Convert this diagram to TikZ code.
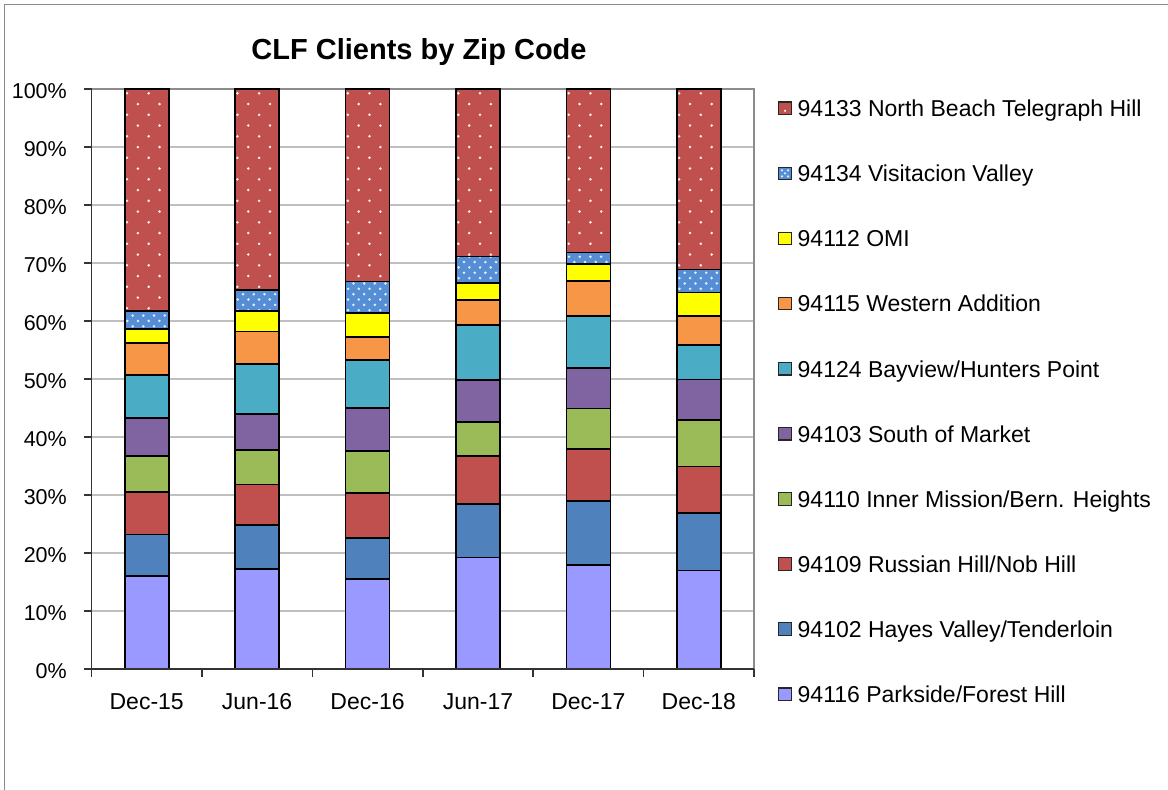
\documentclass[tikz,border=0pt]{standalone}
\usepackage{fontspec}
\setmainfont{Liberation Sans}
\definecolor{segc1}{HTML}{9999FF}
\definecolor{segc2}{HTML}{4F81BD}
\definecolor{segc3}{HTML}{C0504D}
\definecolor{segc4}{HTML}{9BBB59}
\definecolor{segc5}{HTML}{8064A2}
\definecolor{segc6}{HTML}{4BACC6}
\definecolor{segc7}{HTML}{F79646}
\definecolor{segc8}{HTML}{FFFF00}
\definecolor{segc9}{HTML}{558ED5}
\definecolor{segc10}{HTML}{C0504D}
\definecolor{gridgray}{HTML}{C0C0C0}
\definecolor{plotgray}{HTML}{8C8C8C}
\definecolor{framegray}{HTML}{8A8A8A}
\definecolor{axisdark}{HTML}{333333}

% y of a percentage value on the value axis
\newcommand\yof[1]{669-5.8*#1}

% one stacked column: #1 centre x, #2 cumulative tops of the ten series
\newcommand\stackbar[2]{%
  \foreach \t [count=\k, remember=\t as \p (initially 0)] in {#2} {
    \fill[segc\k] ({#1-22},{\yof{\p}}) rectangle ({#1+22},{\yof{\t}});
    \ifnum\k=9
      \begin{scope}
        \clip ({#1-22},{\yof{\p}}) rectangle ({#1+22},{\yof{\t}});
        \foreach \j in {0,...,17} {
          \foreach \m in {0,...,4} {
            \fill[white, opacity=0.85] ({#1-22+2.6+10.7*\m+5.35*mod(\j,2)},{246+5.35*\j}) circle (1.4);
          }
        }
      \end{scope}
    \fi
    \ifnum\k=10
      \begin{scope}
        \clip ({#1-22},{\yof{\p}}) rectangle ({#1+22},{\yof{\t}});
        \foreach \j in {0,...,22} {
          \foreach \m in {0,...,2} {
            \fill[white!92!segc10] ({#1-22+2.3+21.7*\m+10.85*mod(\j,2)},{93.3+10.75*\j}) circle (1.4);
          }
        }
      \end{scope}
    \fi
  }
  \foreach \t [remember=\t as \p (initially 0)] in {#2} {
    \draw[segline] ({#1-22},{\yof{\p}}) rectangle ({#1+22},{\yof{\t}});
  }
}

\begin{document}
\begin{tikzpicture}[x=1pt,y=-1pt,
  segline/.style={draw=black, line width=1.7pt},
  gridline/.style={draw=gridgray, line width=1.3pt},
  axisline/.style={draw=axisdark, line width=1.6pt},
  ticklabel/.style={font=\fontsize{21.5}{24}\selectfont, anchor=base east, inner sep=0pt},
  catlabel/.style={font=\fontsize{23}{26}\selectfont, anchor=base, inner sep=0pt},
  legtext/.style={font=\fontsize{23}{26}\selectfont, anchor=base west, inner sep=0pt},
  legbox/.style={draw=black!85, line width=1.2pt, minimum size=12.5pt, inner sep=0pt}]
\useasboundingbox (0,0) rectangle (1168,790);
\fill[white] (0,0) rectangle (1168,790);

% chart area frame
\draw[framegray, line width=1.5pt] (4.7,792) -- (4.7,4.7) -- (1170,4.7);

% title
\node[font=\fontsize{29}{32}\selectfont\bfseries, anchor=base, inner sep=0pt] (title) at (419,59) {CLF Clients by Zip Code};

% gridlines and plot border
\foreach \k in {1,...,9} {
  \draw[gridline] (91.5,{669-58*\k}) -- (754,{669-58*\k});
}
\draw[plotgray, line width=2pt] (91.5,89) -- (754,89) -- (754,669);

% value axis labels
\foreach \k/\lab in {0/0\%,1/10\%,2/20\%,3/30\%,4/40\%,5/50\%,6/60\%,7/70\%,8/80\%,9/90\%,10/100\%} {
  \node[ticklabel] (v\k) at (67,{669-58*\k+9.5}) {\lab};
}

% columns
\stackbar{146.7}{16,23.2,30.5,36.7,43.3,50.7,56.2,58.6,61.7,100}
\stackbar{257.1}{17.2,24.8,31.8,37.7,44.0,52.6,58.2,61.7,65.3,100}
\stackbar{367.5}{15.5,22.6,30.3,37.6,45.0,53.3,57.3,61.4,66.8,100}
\stackbar{478.0}{19.2,28.4,36.7,42.6,49.8,59.3,63.6,66.6,71.1,100}
\stackbar{588.4}{17.9,29.0,37.9,44.9,51.9,60.9,66.9,69.8,71.8,100}
\stackbar{698.8}{17.0,26.9,34.9,42.9,49.9,55.9,60.9,64.9,68.9,100}

% axes and ticks
\draw[axisline] (91.5,89) -- (91.5,669);
\draw[axisline] (84,669) -- (754,669);
\foreach \k in {0,...,10} {
  \draw[axisline] (84,{669-58*\k}) -- (91.5,{669-58*\k});
}
\foreach \i in {0,...,6} {
  \draw[axisline] ({91.5+110.42*\i},669) -- ({91.5+110.42*\i},677);
}

% category labels
\foreach \i/\lab in {0/Dec-15,1/Jun-16,2/Dec-16,3/Jun-17,4/Dec-17,5/Dec-18} {
  \node[catlabel] (c\i) at ({146.7+110.42*\i},709) {\lab};
}

% legend
\foreach \r/\c/\lab in {
  0/10/{94133 North Beach Telegraph Hill},
  1/9/{94134 Visitacion Valley},
  2/8/{94112 OMI},
  3/7/{94115 Western Addition},
  4/6/{94124 Bayview/Hunters Point},
  5/5/{94103 South of Market},
  6/4/{94110 Inner Mission/Bern. Heights},
  7/3/{94109 Russian Hill/Nob Hill},
  8/2/{94102 Hayes Valley/Tenderloin},
  9/1/{94116 Parkside/Forest Hill}} {
  \node[legbox, fill=segc\c] (lk\r) at (785,{108.3+65.1*\r}) {};
  \node[legtext] (lt\r) at (797.5,{108.3+65.1*\r+8.3}) {\lab};
}
\fill[white] (lk0.center) ++(0,2.5) circle (1.2);
\foreach \dx/\dy in {-3/-3,3/-3,0/0,-3/3,3/3} {
  \fill[white, opacity=0.85] (lk1.center) ++(\dx,\dy) circle (1.2);
}
\end{tikzpicture}
\end{document}
